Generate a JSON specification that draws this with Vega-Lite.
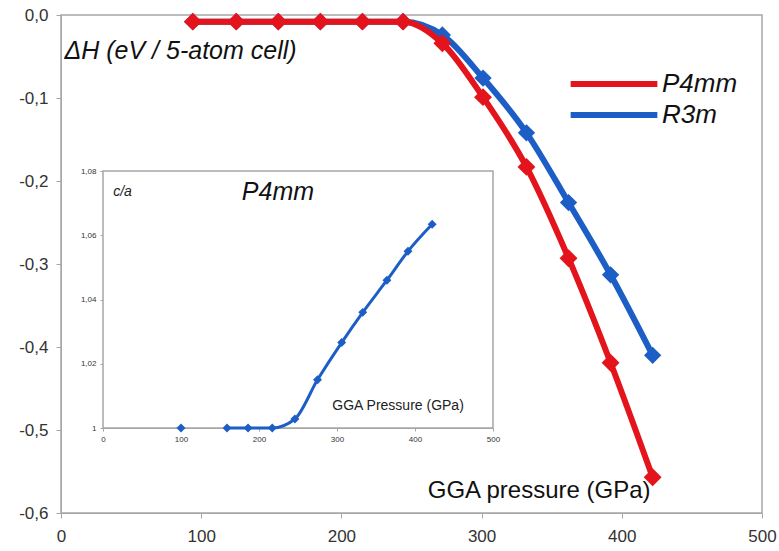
{
  "$schema": "https://vega.github.io/schema/vega-lite/v6.json",
  "width": 701,
  "height": 498,
  "autosize": {"type": "none"},
  "padding": {"left": 61, "top": 15, "right": 17, "bottom": 38},
  "background": "white",
  "config": {
    "font": "Liberation Sans",
    "view": {"stroke": "#a6a6a6", "strokeWidth": 1.5},
    "axis": {"grid": false, "domainColor": "#a6a6a6", "tickColor": "#a6a6a6", "labelColor": "#333333", "labelFlush": false, "labelOverlap": false}
  },
  "datasets": {
    "ca": [
      {"p": 100, "ca": 1.0, "seg": "a"},
      {"p": 159, "ca": 1.0, "seg": "b"},
      {"p": 186, "ca": 1.0, "seg": "b"},
      {"p": 217, "ca": 1.0, "seg": "b"},
      {"p": 246, "ca": 1.0028, "seg": "b"},
      {"p": 275, "ca": 1.015, "seg": "b"},
      {"p": 306, "ca": 1.0266, "seg": "b"},
      {"p": 333, "ca": 1.036, "seg": "b"},
      {"p": 364, "ca": 1.046, "seg": "b"},
      {"p": 391, "ca": 1.055, "seg": "b"},
      {"p": 422, "ca": 1.0634, "seg": "b"}
    ]
  },
  "layer": [
    {
      "data": {
        "values": [
          {"p": 94, "dH": -0.008, "phase": "R3m"},
          {"p": 125, "dH": -0.008, "phase": "R3m"},
          {"p": 155, "dH": -0.008, "phase": "R3m"},
          {"p": 185, "dH": -0.008, "phase": "R3m"},
          {"p": 215, "dH": -0.008, "phase": "R3m"},
          {"p": 244, "dH": -0.008, "phase": "R3m"},
          {"p": 272, "dH": -0.024, "phase": "R3m"},
          {"p": 301, "dH": -0.076, "phase": "R3m"},
          {"p": 332, "dH": -0.142, "phase": "R3m"},
          {"p": 362, "dH": -0.226, "phase": "R3m"},
          {"p": 392, "dH": -0.313, "phase": "R3m"},
          {"p": 422, "dH": -0.41, "phase": "R3m"},
          {"p": 94, "dH": -0.008, "phase": "P4mm"},
          {"p": 125, "dH": -0.008, "phase": "P4mm"},
          {"p": 155, "dH": -0.008, "phase": "P4mm"},
          {"p": 185, "dH": -0.008, "phase": "P4mm"},
          {"p": 215, "dH": -0.008, "phase": "P4mm"},
          {"p": 244, "dH": -0.008, "phase": "P4mm"},
          {"p": 272, "dH": -0.034, "phase": "P4mm"},
          {"p": 301, "dH": -0.099, "phase": "P4mm"},
          {"p": 332, "dH": -0.183, "phase": "P4mm"},
          {"p": 362, "dH": -0.293, "phase": "P4mm"},
          {"p": 392, "dH": -0.419, "phase": "P4mm"},
          {"p": 422, "dH": -0.557, "phase": "P4mm"}
        ]
      },
      "encoding": {
        "x": {
          "field": "p", "type": "quantitative",
          "scale": {"domain": [0, 500], "nice": false, "zero": false},
          "axis": {
            "orient": "bottom",
            "values": [0, 100, 200, 300, 400, 500],
            "labelFontSize": 17, "tickSize": 5, "labelPadding": 10,
            "title": "GGA pressure (GPa)",
            "titleFontSize": 24, "titleFontWeight": "normal", "titleColor": "#111111",
            "titleX": 589, "titleY": -16, "titleAlign": "right", "titleBaseline": "alphabetic", "titleAnchor": "end"
          }
        },
        "y": {
          "field": "dH", "type": "quantitative",
          "scale": {"domain": [-0.6, 0], "nice": false, "zero": false},
          "axis": {
            "orient": "left",
            "values": [-0.6, -0.5, -0.4, -0.3, -0.2, -0.1, 0],
            "labelExpr": "(datum.value < -0.0001 ? '-' : '') + replace(format(abs(datum.value), '.1f'), '.', ',')",
            "labelFontSize": 17, "tickSize": 5, "labelPadding": 8,
            "title": "ΔH (eV / 5-atom cell)",
            "titleFontSize": 25, "titleFontWeight": "normal", "titleFontStyle": "italic", "titleColor": "#111111",
            "titleAngle": 0, "titleX": 3, "titleY": 43, "titleAlign": "left", "titleBaseline": "alphabetic"
          }
        },
        "color": {
          "field": "phase", "type": "nominal",
          "scale": {"domain": ["P4mm", "R3m"], "range": ["#e3141c", "#1d5ec6"]},
          "legend": {
            "orient": "none", "legendX": 539, "legendY": 55,
            "title": null,
            "symbolType": "M-4,0H4", "symbolSize": 470, "symbolStrokeWidth": 6,
            "labelFontSize": 26, "labelFontStyle": "italic", "labelColor": "#111111", "labelOffset": 34,
            "rowPadding": 4
          }
        }
      },
      "layer": [
        {"transform": [{"filter": "datum.phase == 'R3m'"}], "mark": {"type": "line", "interpolate": "monotone", "strokeWidth": 6}},
        {"transform": [{"filter": "datum.phase == 'R3m'"}], "mark": {"type": "point", "shape": "diamond", "filled": true, "opacity": 1, "size": 300}},
        {"transform": [{"filter": "datum.phase == 'P4mm'"}], "mark": {"type": "line", "interpolate": "monotone", "strokeWidth": 6}},
        {"transform": [{"filter": "datum.phase == 'P4mm'"}], "mark": {"type": "point", "shape": "diamond", "filled": true, "opacity": 1, "size": 320}}
      ]
    },
    {
      "data": {"name": "ca"},
      "encoding": {
        "x": {
          "field": "p", "type": "quantitative",
          "scale": {"domain": [0, 500], "range": [42, 432], "nice": false, "zero": false},
          "axis": {"orient": "bottom", "offset": -85, "values": [0, 100, 200, 300, 400, 500], "labelFontSize": 8, "tickSize": 3, "labelPadding": 4, "title": null}
        },
        "y": {
          "field": "ca", "type": "quantitative",
          "scale": {"domain": [1, 1.08], "range": [413, 156], "nice": false, "zero": false},
          "axis": {
            "orient": "left", "offset": -42, "values": [1, 1.02, 1.04, 1.06, 1.08],
            "labelExpr": "datum.value < 1.001 ? '1' : replace(format(datum.value, '.2f'), '.', ',')",
            "labelFontSize": 8, "tickSize": 3, "labelPadding": 4, "title": null
          }
        }
      },
      "layer": [
        {
          "transform": [{"filter": "datum.seg == 'a'"}],
          "mark": {"type": "rect", "fill": "white", "stroke": "#a6a6a6", "strokeWidth": 1.5},
          "encoding": {
            "x": {"datum": 0, "type": "quantitative"},
            "x2": {"datum": 500},
            "y": {"datum": 1, "type": "quantitative"},
            "y2": {"datum": 1.08}
          }
        },
        {"mark": {"type": "line", "interpolate": "monotone", "strokeWidth": 3, "color": "#1d5ec6"}, "encoding": {"detail": {"field": "seg", "type": "nominal"}}},
        {"mark": {"type": "point", "shape": "diamond", "filled": true, "opacity": 1, "size": 80, "color": "#1d5ec6"}},
        {
          "transform": [{"filter": "datum.seg == 'a'"}],
          "mark": {"type": "text", "align": "left", "baseline": "middle", "fontStyle": "italic", "fontSize": 14, "color": "#222222"},
          "encoding": {"x": {"datum": 13, "type": "quantitative"}, "y": {"datum": 1.0734, "type": "quantitative"}, "text": {"value": "c/a"}}
        },
        {
          "transform": [{"filter": "datum.seg == 'a'"}],
          "mark": {"type": "text", "align": "left", "baseline": "middle", "fontStyle": "italic", "fontSize": 25, "color": "#111111"},
          "encoding": {"x": {"datum": 178, "type": "quantitative"}, "y": {"datum": 1.0734, "type": "quantitative"}, "text": {"value": "P4mm"}}
        },
        {
          "transform": [{"filter": "datum.seg == 'a'"}],
          "mark": {"type": "text", "align": "left", "baseline": "middle", "fontSize": 14, "color": "#222222"},
          "encoding": {"x": {"datum": 294, "type": "quantitative"}, "y": {"datum": 1.0069, "type": "quantitative"}, "text": {"value": "GGA Pressure (GPa)"}}
        }
      ]
    }
  ],
  "resolve": {"scale": {"x": "independent", "y": "independent"}, "axis": {"x": "independent", "y": "independent"}}
}
